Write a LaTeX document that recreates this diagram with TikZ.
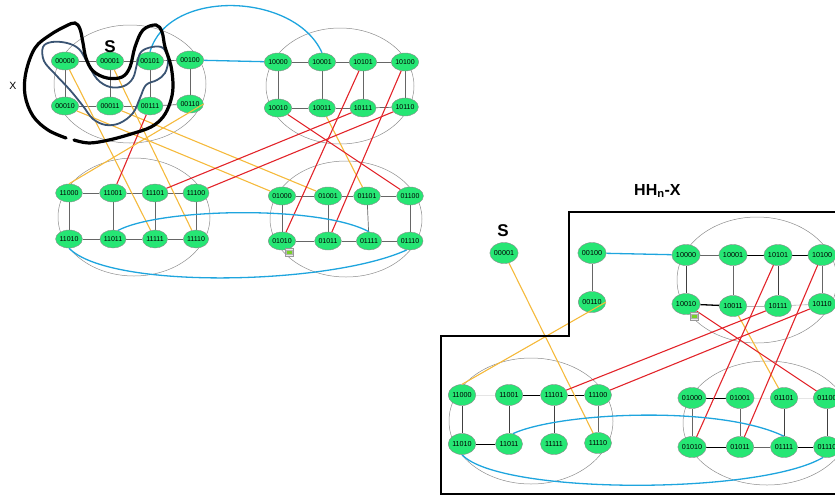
\documentclass[tikz,border=0pt]{standalone}
\usepackage{fontspec}
\setmainfont{Liberation Sans}
\usetikzlibrary{shapes.geometric}
\definecolor{ngreen}{RGB}{38,230,116}
\definecolor{bline}{RGB}{30,165,222}
\definecolor{yline}{RGB}{245,186,60}
\definecolor{rline}{RGB}{226,36,42}
\definecolor{slate}{RGB}{58,84,115}
\definecolor{mgreen}{RGB}{120,210,40}
\pgfdeclarelayer{bg}
\pgfsetlayers{bg,main}
\tikzset{
  vtx/.style={ellipse, draw=black!45, line width=0.4pt, fill=ngreen, inner sep=0pt,
    minimum width=25, minimum height=18, font=\fontsize{7}{7}\selectfont, text=black},
  vtxr/.style={vtx, minimum width=27, minimum height=21, font=\fontsize{7.2}{7}\selectfont},
  clus/.style={draw=black!45, line width=0.5pt},
  gr/.style={draw=black!60, line width=0.7pt},
  dk/.style={draw=black!75, line width=0.8pt},
  bk/.style={draw=black, line width=1pt},
  lg/.style={draw=black!30, line width=0.6pt},
  fa/.style={draw=black!10, line width=0.6pt},
  ye/.style={draw=yline, line width=1.1pt},
  re/.style={draw=rline, line width=1.1pt},
  bl/.style={draw=bline, line width=1.3pt},
  mark box/.style={draw=black!40, fill=black!8, line width=0.5pt, minimum width=8, minimum height=8, inner sep=0pt},
  mark in/.style={fill=mgreen, draw=black!30, line width=0.2pt, minimum width=5.5, minimum height=3.5, inner sep=0pt},
}
\begin{document}
\begin{tikzpicture}[x=1pt,y=-1pt]
\useasboundingbox (0,0) rectangle (835,496);
% ---------- left picture nodes
\foreach \n/\px/\py in {00000/65/61,00001/110/61,00101/150/61,00100/190/60,
  00010/65/106,00011/110/106,00111/150/106,00110/190/104,
  10000/278/62,10001/322/62,10101/363/62,10100/405/62,
  10010/278/108,10011/322/108,10111/363/108,10110/405/107,
  11000/69/193,11001/113/193,11101/155/193,11100/196/193,
  11010/69/239,11011/113/239,11111/155/239,11110/196/239,
  01000/282/196,01001/328/196,01101/367/196,01100/410/196,
  01010/282/241,01011/328/241,01111/369/241,01110/410/241}
  {\node[vtx] (L\n) at (\px,\py) {\n};}
% ---------- right picture nodes
\foreach \n/\px/\py in {00001/504/253,00100/592/253,00110/592/302,
  10000/686/255,10001/733/255,10101/778/255,10100/822/255,
  10010/686/304,10011/733/306,10111/778/306,10110/822/304,
  11000/462/395,11001/509/395,11101/554/395,11100/598/395,
  11010/462/444,11011/509/444,11111/554/444,11110/598/443,
  01000/692/398,01001/740/398,01101/784/398,01100/827/398,
  01010/692/447,01011/740/447,01111/784/447,01110/827/447}
  {\node[vtxr] (R\n) at (\px,\py) {\n};}

\begin{pgfonlayer}{bg}
% cluster ellipses
\draw[clus] (130,84) ellipse [x radius=76, y radius=59];
\draw[clus] (340,86) ellipse [x radius=74, y radius=58];
\draw[clus] (134,217) ellipse [x radius=76, y radius=59];
\draw[clus] (346,219) ellipse [x radius=76, y radius=58];
\draw[clus] (757,280) ellipse [x radius=80, y radius=63];
\draw[clus] (531,421) ellipse [x radius=82, y radius=63];
\draw[clus] (767,423) ellipse [x radius=84, y radius=62];
% left grids
\foreach \a/\b in {00000/00001,00001/00101,00101/00100,00010/00011,00011/00111,00111/00110,
  00000/00010,00001/00011,00101/00111,00100/00110,
  10000/10001,10001/10101,10101/10100,10010/10011,10011/10111,10111/10110,
  10000/10010,10001/10011,10101/10111,10100/10110,
  11000/11001,11001/11101,11101/11100,11010/11011,11011/11111,11111/11110,
  11000/11010,11001/11011,11101/11111,11100/11110,
  01000/01001,01001/01101,01101/01100,01010/01011,01011/01111,01111/01110,
  01000/01010,01001/01011,01101/01111,01100/01110}
  {\draw[gr] (L\a) -- (L\b);}
% left cross edges
\draw[ye] (L00000) -- (L11111);
\draw[ye] (L00001) -- (L11110);
\draw[ye] (L00010) -- (L01000);
\draw[ye] (L00011) -- (L01001);
\draw[ye] (L10011) -- (L01101);
\draw[re] (L00111) -- (L11001);
\draw[re] (L10101) -- (L01010);
\draw[re] (L10100) -- (L01011);
\draw[re] (L10111) -- (L11101);
\draw[re] (L10110) -- (L11100);
\draw[re] (L10010) -- (L01100);
\draw[bl] (L00100) -- (L10000);
\draw[bl] (L00101.north) .. controls (168,-12) and (295,-8) .. (L10001.north);
\draw[bl] (L11011.60) .. controls (160,208) and (320,205) .. (L01111.north);
\draw[bl] (L11010.south) .. controls (110,290) and (330,285) .. (L01110.250);
% right grids
\draw[gr] (R00100) -- (R00110);
\draw[gr] (R10000) -- (R10001); \draw[bk] (R10001) -- (R10101); \draw[bk] (R10101) -- (R10100);
\draw[dk] (R10000) -- (R10010); \draw[gr] (R10001) -- (R10011); \draw[dk] (R10101) -- (R10111);
\draw[gr] (R10100) -- (R10110); \draw[bk, line width=1.3pt] (R10010) -- (R10011);
\draw[lg] (R10011) -- (R10111); \draw[lg] (R10111) -- (R10110);
\draw[fa] (R11000) -- (R11001); \draw[bk] (R11001) -- (R11101); \draw[bk] (R11101) -- (R11100);
\draw[dk] (R11000) -- (R11010); \draw[dk] (R11001) -- (R11011); \draw[dk] (R11101) -- (R11111);
\draw[gr] (R11100) -- (R11110); \draw[bk] (R11010) -- (R11011);
\draw[bk] (R01000) -- (R01001); \draw[fa] (R01001) -- (R01101); \draw[fa] (R01101) -- (R01100);
\draw[gr] (R01000) -- (R01010); \draw[gr] (R01001) -- (R01011); \draw[dk] (R01101) -- (R01111);
\draw[dk] (R01100) -- (R01110); \draw[bk] (R01010) -- (R01011); \draw[gr] (R01011) -- (R01111);
\draw[bk] (R01111) -- (R01110);
% right cross edges
\draw[ye] (R00001) -- (R11110);
\draw[ye] (R10011) -- (R01101);
\draw[re] (R10101) -- (R01010);
\draw[re] (R10100) -- (R01011);
\draw[re] (R10111) -- (R11101);
\draw[re] (R10110) -- (R11100);
\draw[re] (R10010) -- (R01100);
\draw[bl] (R00100) -- (R10000);
\draw[bl] (R11011.70) .. controls (560,412) and (720,405) .. (R01111.north);
\draw[bl] (R11010.south) .. controls (500,495) and (760,495) .. (R01110.250);
\end{pgfonlayer}

% yellow edges passing over a node
\draw[ye] (L00110.east) -- (L11000.north);
\draw[ye] (R00110.east) -- (R11000.north);

% X set (black) and S set (slate)
\draw[slate, line width=1.8pt] plot[smooth cycle, tension=0.6] coordinates {
  (43,47) (52,42) (67,43) (79,49) (87,62) (97,79) (110,87) (124,86) (133,78) (137,64)
  (141,52) (152,47) (163,48) (168,60) (165,73) (157,80) (146,85) (140,98) (133,113)
  (120,123) (106,125) (93,119) (83,106) (70,90) (55,74) (44,61)};
\draw[black, line width=3.2pt, line cap=round] plot[smooth, tension=0.6] coordinates {
  (66,138) (48,130) (33,116) (25,95) (26,72) (35,48) (50,35) (66,26) (75,23) (80,29)
  (83,43) (86,58) (93,71) (107,78) (122,77) (130,67) (135,47) (143,30) (156,25) (162,32)
  (165,47) (171,66) (173,87) (170,103) (163,117) (151,127) (131,134) (109,140) (89,143) (74,140)};

% labels
\node[font=\bfseries\fontsize{17}{17}\selectfont, inner sep=0pt] (Sl) at (110,47) {S};
\node[font=\fontsize{10.5}{11}\selectfont, inner sep=0pt] (Xl) at (13,86) {X};
\node[font=\bfseries\fontsize{17}{17}\selectfont, inner sep=0pt] (Sr) at (503,231) {S};
\node[font=\bfseries\fontsize{16}{16}\selectfont, inner sep=0pt, anchor=west] (title) at (634,191) {HH\textsubscript{n}-X};

% region HH_n - X
\draw[black, line width=2.6pt] (845,212) -- (569,212) -- (569,336) -- (441,336) -- (441,494) -- (845,494);

% small markers
\node[mark box] (mkl) at (289,252) {};
\node[mark in] (mkli) at (289,252) {};
\node[mark box] (mkr) at (694,316) {};
\node[mark in] (mkri) at (694,316) {};
\end{tikzpicture}
\end{document}
